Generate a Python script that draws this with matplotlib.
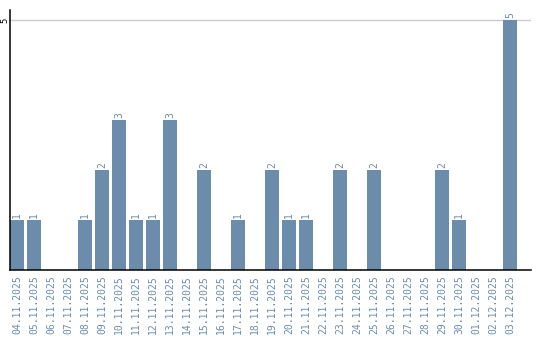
import matplotlib
matplotlib.use("Agg")
import matplotlib.pyplot as plt

dates = ["04.11.2025", "05.11.2025", "06.11.2025", "07.11.2025", "08.11.2025",
         "09.11.2025", "10.11.2025", "11.11.2025", "12.11.2025", "13.11.2025",
         "14.11.2025", "15.11.2025", "16.11.2025", "17.11.2025", "18.11.2025",
         "19.11.2025", "20.11.2025", "21.11.2025", "22.11.2025", "23.11.2025",
         "24.11.2025", "25.11.2025", "26.11.2025", "27.11.2025", "28.11.2025",
         "29.11.2025", "30.11.2025", "01.12.2025", "02.12.2025", "03.12.2025"]
counts = [1, 1, 0, 0, 1, 2, 3, 1, 1, 3,
          0, 2, 0, 1, 0, 2, 1, 1, 0, 2,
          0, 2, 0, 0, 0, 2, 1, 0, 0, 5]

bar_color = "#6b8cab"
text_color = "#6b8cab"

fig = plt.figure(figsize=(5.4, 3.4), dpi=100)
ax = fig.add_axes([10 / 540, 70 / 340, 521 / 540, 260 / 340])

x = list(range(len(dates)))
ax.bar(x, counts, width=0.82, color=bar_color, zorder=2)

for i, v in zip(x, counts):
    if v > 0:
        ax.text(i, v + 0.04, str(v), rotation=90, ha="center", va="bottom",
                fontsize=7, color=text_color, family="DejaVu Sans Mono")

ax.set_xlim(-0.41, 30.23)
ax.set_ylim(0, 5.2)
ax.axhline(5, color="#cccccc", linewidth=1, zorder=1)

ax.set_yticks([5])
ax.set_yticklabels(["5"], rotation=90, va="center", fontsize=6.5,
                   family="DejaVu Sans Mono")
ax.set_xticks(x)
ax.set_xticklabels(dates, rotation=90, fontsize=7, color=text_color,
                   family="DejaVu Sans Mono")
ax.tick_params(axis="x", length=0, pad=4)
ax.tick_params(axis="y", length=0, pad=0.5)

for s in ["top", "right"]:
    ax.spines[s].set_visible(False)
ax.spines["left"].set_color("black")
ax.spines["bottom"].set_color("black")
ax.spines["left"].set_linewidth(1.1)
ax.spines["bottom"].set_linewidth(1.1)

fig.savefig("out.png", dpi=100)
